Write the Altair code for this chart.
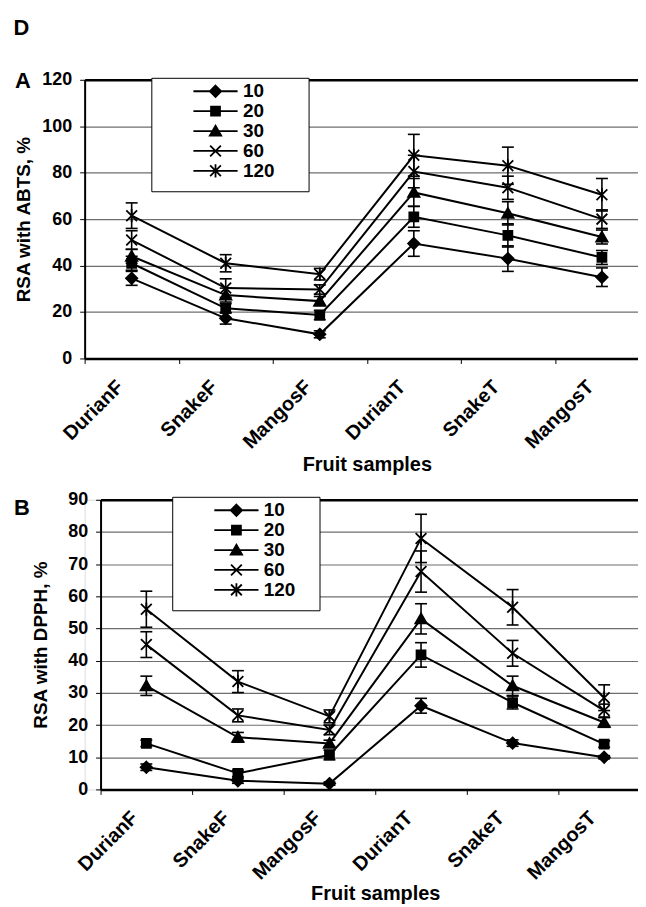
import altair as alt
import pandas as pd

samples = ["DurianF", "SnakeF", "MangosF", "DurianT", "SnakeT", "MangosT"]
concs = ["10", "20", "30", "60", "120"]

# RSA with ABTS (%), one list per concentration, in sample order
abts_10 = [34.5, 17.3, 10.4, 49.5, 43.0, 35.0]
abts_20 = [41.0, 21.6, 18.7, 61.0, 53.0, 43.5]
abts_30 = [44.0, 27.3, 24.7, 71.5, 62.5, 52.3]
abts_60 = [51.0, 30.3, 29.7, 80.5, 73.5, 60.0]
abts_120 = [61.5, 41.0, 36.3, 87.5, 83.0, 70.5]
abts_err_10 = [3.0, 2.5, 1.5, 5.5, 5.5, 4.0]
abts_err_20 = [3.0, 2.0, 2.0, 4.5, 5.0, 3.0]
abts_err_30 = [3.0, 3.0, 2.0, 6.0, 5.0, 3.0]
abts_err_60 = [4.0, 4.0, 2.0, 7.0, 5.0, 4.0]
abts_err_120 = [5.5, 3.7, 2.5, 9.0, 8.0, 7.0]

# RSA with DPPH (%)
dpph_10 = [6.9, 2.7, 1.8, 26.0, 14.4, 10.0]
dpph_20 = [14.3, 5.0, 10.7, 41.8, 27.0, 14.1]
dpph_30 = [32.2, 16.2, 14.3, 53.0, 32.2, 20.8]
dpph_60 = [45.0, 23.0, 18.5, 67.7, 42.3, 24.5]
dpph_120 = [56.0, 33.5, 22.7, 78.0, 56.6, 28.5]
dpph_err_10 = [1.0, 0.8, 0.5, 2.3, 1.0, 0.5]
dpph_err_20 = [1.0, 1.0, 1.5, 3.8, 2.0, 1.0]
dpph_err_30 = [3.0, 1.5, 1.0, 4.7, 3.0, 1.5]
dpph_err_60 = [4.0, 2.0, 1.5, 6.4, 4.0, 2.0]
dpph_err_120 = [5.6, 3.4, 2.0, 7.5, 5.5, 4.0]

FONT = "Arial"

# marker symbols (unit square path coordinates)
marker_paths = [
    "M0,-0.95L0.95,0L0,0.95L-0.95,0Z",
    "M-0.75,-0.75L0.75,-0.75L0.75,0.75L-0.75,0.75Z",
    "M0,-0.9L0.95,0.75L-0.95,0.75Z",
    "M-0.9,-0.9L0.9,0.9M-0.9,0.9L0.9,-0.9",
    "M-0.9,-0.9L0.9,0.9M-0.9,0.9L0.9,-0.9M0,-1.1L0,1.1",
]


def hatch(halfwidth, ys):
    return "".join(f"M{-halfwidth(y):.3f},{y:.3f}L{halfwidth(y):.3f},{y:.3f}" for y in ys)


# stroke-only versions for the legend (dense strokes look filled)
legend_markers = [
    marker_paths[0] + hatch(lambda y: 0.95 - abs(y), [-0.75, -0.5, -0.25, 0, 0.25, 0.5, 0.75]),
    marker_paths[1] + hatch(lambda y: 0.75, [-0.5, -0.25, 0, 0.25, 0.5]),
    marker_paths[2] + hatch(lambda y: 0.95 * (y + 0.9) / 1.65, [-0.6, -0.35, -0.1, 0.15, 0.4, 0.6]),
    marker_paths[3],
    marker_paths[4],
]
legend_paths = ["M-3.7,0L3.7,0" + p for p in legend_markers]


def build_df(vals, errs):
    rows = []
    for c, v, e in zip(concs, vals, errs):
        for s, vv, ee in zip(samples, v, e):
            rows.append({"sample": s, "conc": c, "value": vv, "lo": vv - ee, "hi": vv + ee})
    return pd.DataFrame(rows)


df_abts = build_df([abts_10, abts_20, abts_30, abts_60, abts_120],
                   [abts_err_10, abts_err_20, abts_err_30, abts_err_60, abts_err_120])
df_dpph = build_df([dpph_10, dpph_20, dpph_30, dpph_60, dpph_120],
                   [dpph_err_10, dpph_err_20, dpph_err_30, dpph_err_60, dpph_err_120])


def panel(df, ymax, ystep, letter, ytitle, width, height, xrange, yoffset,
          ytitlepad, xtitlepad, legx, legy, legwidth_chars, letter_dx, letter_dy):
    if xrange is not None:
        xscale = alt.Scale(domain=samples, paddingInner=0, paddingOuter=0, range=xrange)
    else:
        xscale = alt.Scale(domain=samples, paddingInner=0, paddingOuter=0)
    x = alt.X("sample:N", sort=samples, scale=xscale,
              axis=alt.Axis(title="Fruit samples", labelAngle=-45, labelAlign="right",
                            labelBaseline="top", labelOffset=-19, labelPadding=13,
                            tickBand="extent", tickSize=5, tickColor="black",
                            domainColor="black", domainWidth=2.5, grid=False,
                            labelFont=FONT, labelFontSize=20, labelFontWeight="bold",
                            labelColor="black", titleFont=FONT, titleFontSize=20,
                            titleFontWeight="bold", titleColor="black",
                            titlePadding=xtitlepad))
    yaxis = alt.Axis(title=ytitle, values=list(range(0, ymax + 1, ystep)), tickSize=5,
                     tickColor="black", domainColor="black", domainWidth=2,
                     grid=True,
                     gridColor={"condition": {"test": f"datum.value === {ymax}", "value": "black"},
                                "value": "#6e6e6e"},
                     gridWidth={"condition": {"test": f"datum.value === {ymax}", "value": 2.5},
                                "value": 1.2},
                     labelFont=FONT, labelFontSize=18, labelFontWeight="bold",
                     labelColor="black", labelPadding=8, titleFont=FONT,
                     titleFontSize=19, titleFontWeight="bold", titleColor="black",
                     titlePadding=ytitlepad, offset=yoffset)
    yscale = alt.Scale(domain=[0, ymax], nice=False, zero=True)
    y = alt.Y("value:Q", scale=yscale, axis=yaxis)

    base = alt.Chart(df)
    lines = base.mark_line(color="black", strokeWidth=2).encode(
        x=x, y=y, detail="conc:N")
    rules = base.mark_rule(color="black", strokeWidth=1.6).encode(
        x=x, y=alt.Y("lo:Q", scale=yscale, axis=yaxis), y2="hi:Q")
    tick_lo = base.mark_tick(color="black", thickness=1.6, size=12, opacity=1).encode(
        x=x, y=alt.Y("lo:Q", scale=yscale, axis=yaxis))
    tick_hi = base.mark_tick(color="black", thickness=1.6, size=12, opacity=1).encode(
        x=x, y=alt.Y("hi:Q", scale=yscale, axis=yaxis))
    points = base.mark_point(filled=True, fill="black", stroke="black", strokeWidth=1.8,
                             size=144, opacity=1).encode(
        x=x, y=y,
        shape=alt.Shape("conc:N", scale=alt.Scale(domain=concs, range=marker_paths),
                        legend=None))
    legend_layer = base.mark_point(filled=False, color="black",
                                   strokeWidth=1.8, size=144, opacity=1).encode(
        shape=alt.Shape("conc:N", sort=concs,
                        scale=alt.Scale(domain=concs, range=legend_paths),
                        legend=alt.Legend(
                            orient="none", legendX=legx, legendY=legy,
                            title="M" * legwidth_chars, titleOrient="bottom",
                            titleColor="white", titleFont=FONT,
                            titleFontSize=6, titlePadding=0, titleLimit=400,
                            padding=4, strokeColor="black",
                            fillColor="white", labelFont=FONT, labelFontSize=19,
                            labelFontWeight="bold", labelColor="black",
                            symbolSize=144, symbolStrokeWidth=1.8,
                            symbolStrokeColor="black",
                            symbolOpacity=1, symbolOffset=51, labelOffset=18,
                            rowPadding=-2, labelLimit=200))
    ).transform_filter("false")

    return alt.layer(lines, rules, tick_lo, tick_hi, points, legend_layer).resolve_scale(
        shape="independent").properties(
        width=width, height=height,
        title=alt.TitleParams(letter, anchor="start", frame="bounds", font=FONT,
                              fontSize=22, fontWeight="bold", color="black",
                              dx=letter_dx, dy=letter_dy, offset=0))


top = panel(df_abts, 120, 20, "A", "RSA with ABTS, %", 567, 280, None, 0, 8, 2,
            67, -2, 30, 0, 22)
bottom = panel(df_dpph, 90, 10, "B", "RSA with DPPH, %", 568, 291, [16, 568], -16, 17, 0,
               88, -3, 28, -18, 29)

chart = alt.vconcat(top, bottom, spacing=15).properties(
    title=alt.TitleParams("D", anchor="start", font=FONT, fontSize=22,
                          fontWeight="bold", color="black", offset=30),
    padding={"left": 5, "top": 6, "right": -13, "bottom": 0},
).configure_view(strokeWidth=0, stroke="transparent").configure(background="white")

chart.save("out.html", embed_options={"renderer": "svg", "actions": False})
